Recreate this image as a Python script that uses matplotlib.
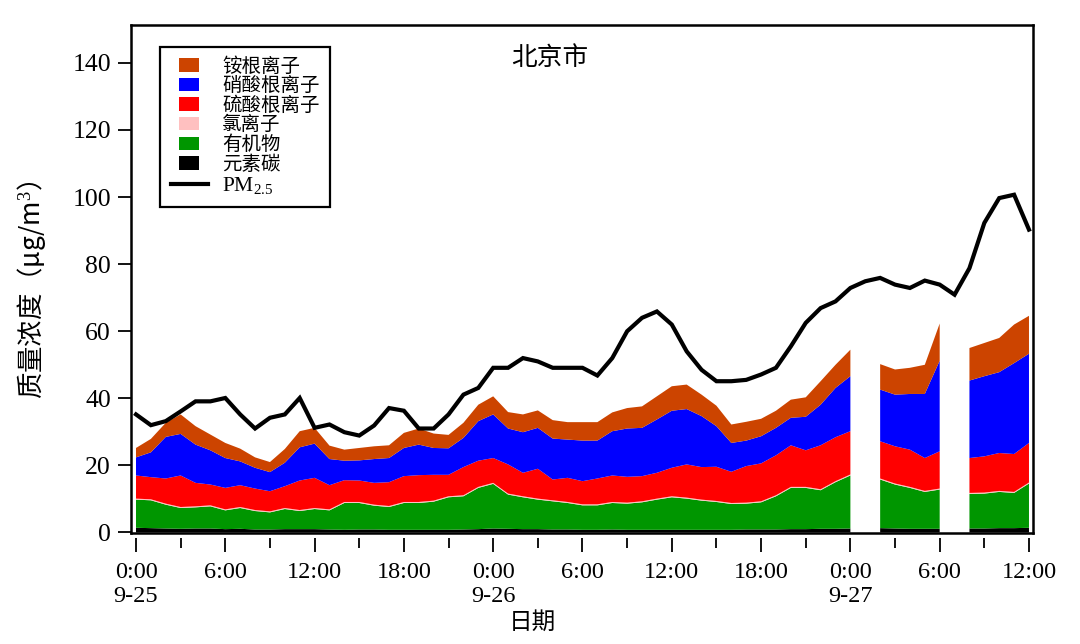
import numpy as np
import matplotlib
matplotlib.use("Agg")
import matplotlib.pyplot as plt
from matplotlib.patches import Rectangle
from matplotlib.lines import Line2D
from matplotlib.legend_handler import HandlerPatch
from matplotlib.ticker import FixedLocator

plt.rcParams['font.family'] = ['Liberation Serif', 'Noto Sans CJK SC']
plt.rcParams['mathtext.fontset'] = 'custom'
plt.rcParams['mathtext.rm'] = 'Liberation Serif'
plt.rcParams['mathtext.it'] = 'Liberation Serif:italic'

nan = np.nan
# hours since 2014-09-25 0:00 (hourly)
hours = list(range(61))

ec = [1.4, 1.3, 1.2, 1.1, 1.2, 1.2, 1.0, 1.1, 0.9, 0.9, 1.0, 1.0, 1.0, 0.9, 0.8, 0.9,
      0.9, 0.8, 0.8, 0.8, 0.8, 0.8, 0.9, 1.0, 1.2, 1.1, 1.0, 1.0, 0.9, 0.9, 0.8, 0.8,
      0.9, 0.8, 0.8, 0.8, 0.8, 0.8, 0.8, 0.8, 0.8, 0.9, 0.9, 0.9, 1.0, 1.0, 1.1, 1.1,
      1.2, nan, 1.3, 1.2, 1.1, 1.1, 1.1, nan, 1.2, 1.2, 1.3, 1.3, 1.4]
organic = [8.4, 8.3, 7.1, 6.2, 6.3, 6.6, 5.6, 6.2, 5.5, 5.1, 6.0, 5.4, 6.0, 5.7, 8.0, 7.9,
           7.1, 6.8, 8.0, 8.0, 8.4, 9.7, 9.9, 12.3, 13.3, 10.2, 9.5, 8.8, 8.4, 7.9, 7.3, 7.3,
           7.9, 7.8, 8.2, 9.0, 9.7, 9.3, 8.7, 8.3, 7.7, 7.7, 8.1, 9.9, 12.3, 12.3, 11.5, 13.9,
           15.8, nan, 14.5, 13.1, 12.2, 11.0, 11.7, nan, 10.3, 10.4, 10.8, 10.5, 13.2]
chloride = [0.3] * 49 + [nan] + [0.3] * 5 + [nan] + [0.3] * 5
sulfate = [6.9, 6.6, 7.5, 9.4, 7.0, 6.2, 6.4, 6.5, 6.4, 6.0, 6.5, 8.8, 9.0, 7.2, 6.5, 6.4,
           6.5, 7.1, 7.7, 8.0, 7.7, 6.4, 8.4, 7.8, 7.4, 8.7, 7.0, 8.9, 6.2, 7.2, 6.9, 7.7,
           7.9, 7.7, 7.5, 7.7, 8.5, 9.9, 9.7, 10.2, 9.3, 10.9, 11.3, 11.9, 12.4, 10.9, 13.1, 13.1,
           12.9, nan, 11.1, 11.1, 11.1, 9.8, 11.1, nan, 10.4, 10.8, 11.3, 11.3, 11.8]
nitrate = [5.4, 7.4, 12.4, 12.4, 11.4, 10.2, 8.9, 7.1, 6.2, 5.7, 7.0, 9.9, 10.2, 7.8, 5.8, 6.0,
           7.1, 7.2, 8.4, 9.1, 8.0, 7.9, 8.7, 11.8, 13.0, 10.7, 12.1, 12.2, 12.2, 11.4, 12.1, 11.3,
           13.2, 14.4, 14.4, 15.9, 17.0, 16.5, 15.2, 12.1, 8.6, 7.6, 8.1, 8.2, 8.2, 10.0, 12.1, 14.7,
           16.4, nan, 15.4, 15.4, 16.6, 19.1, 27.0, nan, 23.1, 23.9, 24.1, 27.1, 26.6]
ammonium = [2.8, 4.0, 4.2, 5.8, 5.5, 4.7, 4.5, 3.8, 3.1, 3.0, 4.1, 4.8, 4.7, 4.0, 3.3, 3.7,
            3.8, 3.8, 4.5, 4.8, 4.3, 4.0, 4.5, 4.9, 5.4, 4.9, 5.3, 5.2, 5.5, 5.2, 5.5, 5.5,
            5.6, 6.1, 6.4, 6.9, 7.3, 7.3, 6.4, 6.1, 5.5, 5.6, 5.2, 5.1, 5.4, 5.8, 7.0, 6.9,
            7.9, nan, 7.6, 7.5, 7.8, 8.7, 11.1, nan, 9.7, 9.9, 10.2, 11.5, 11.3]
pm25 = [35.2, 32.0, 33.2, 36.1, 39.1, 39.1, 40.1, 35.2, 31.0, 34.2, 35.2, 40.1, 31.2, 32.2, 29.9, 28.9,
        31.9, 37.1, 36.3, 31.0, 31.0, 35.2, 41.1, 43.1, 49.1, 49.1, 52.0, 51.0, 49.1, 49.1, 49.1, 46.8,
        52.0, 60.0, 64.0, 65.9, 62.0, 54.0, 48.5, 45.1, 45.1, 45.5, 47.1, 49.1, 55.5, 62.5, 66.9, 68.9,
        72.9, 74.9, 75.9, 73.9, 72.9, 75.1, 73.9, 70.9, 78.8, 92.3, 99.7, 100.7, 90.3]

series_names = ['元素碳', '有机物', '氯离子', '硫酸根离子', '硝酸根离子', '铵根离子']
series_colors = ['#000000', '#009600', '#FFC0C0', '#FF0000', '#0000FF', '#CC4400']
pm_label = 'PM$_{2.5}$'

y_ticks = [0, 20, 40, 60, 80, 100, 120, 140]
tick_hours = [0, 6, 12, 18, 24, 30, 36, 42, 48, 54, 60]
tick_labels = ['0:00\n9-25', '6:00', '12:00', '18:00', '0:00\n9-26', '6:00', '12:00', '18:00',
               '0:00\n9-27', '6:00', '12:00']

fig = plt.figure(figsize=(10.8, 6.44), dpi=100)
ax = fig.add_axes([131 / 1080, 1 - 533 / 644, (1033 - 131) / 1080, (533 - 25) / 644])

ax.stackplot(hours, ec, organic, chloride, sulfate, nitrate, ammonium,
             colors=series_colors, linewidth=0, antialiased=True)
ax.plot(hours, pm25, color='black', lw=3.0, solid_joinstyle='miter')

ax.set_xlim(-0.336, 60.27)
ax.set_ylim(-0.15, 151.3)

for s in ax.spines.values():
    s.set_linewidth(1.8)

ax.set_yticks(y_ticks)
ax.tick_params(axis='y', which='major', direction='out', length=9.5, width=1.3,
               labelsize=18.5, pad=5, right=False)
ax.tick_params(axis='x', which='both', bottom=False, top=False, labelbottom=False)

sec = ax.secondary_xaxis(-5 / 508)
sec.spines['bottom'].set_visible(False)
sec.set_xticks(tick_hours)
sec.set_xticklabels(tick_labels)
sec.xaxis.set_minor_locator(FixedLocator([h + 3 for h in tick_hours[:-1]]))
sec.tick_params(axis='x', which='major', direction='out', length=10, width=1.3,
                labelsize=17.5, pad=7)
sec.tick_params(axis='x', which='minor', direction='out', length=7, width=1.3)

ax.text(0.464, 0.935, '北京市', transform=ax.transAxes, ha='center', va='center',
        fontsize=18.5, family=['Noto Sans CJK SC'])

fig.text(32 / 1080, 1 - 290 / 644, '质量浓度（μg/m$^{3}$）', rotation=90, ha='center', va='center',
         fontsize=19, family=['Noto Sans CJK SC'])
fig.text(532 / 1080, 1 - 622 / 644, '日期', ha='center', va='center',
         fontsize=17, family=['Noto Sans CJK SC'])


def small_patch(legend, orig_handle, xdescent, ydescent, width, height, fontsize):
    w = width * 0.53
    return Rectangle((-xdescent + (width - w) / 2, -ydescent), w, height)


handles = []
labels = []
for name, col in zip(series_names[::-1], series_colors[::-1]):
    handles.append(Rectangle((0, 0), 1, 1, facecolor=col, edgecolor='none'))
    labels.append(name)
handles.append(Line2D([], [], color='black', lw=3.0))
labels.append(pm_label)

leg = ax.legend(handles, labels, loc='upper left', bbox_to_anchor=(0.032, 0.957),
                borderaxespad=0, fontsize=14, frameon=True, fancybox=False,
                edgecolor='black', handlelength=1.9, handletextpad=0.75,
                labelspacing=0.06, borderpad=0.55,
                handler_map={Rectangle: HandlerPatch(patch_func=small_patch)})
leg.get_frame().set_linewidth(1.6)
leg.get_frame().set_alpha(1)
leg.get_texts()[-1].set_fontsize(15.5)

fig.savefig('out.png', dpi=100)
